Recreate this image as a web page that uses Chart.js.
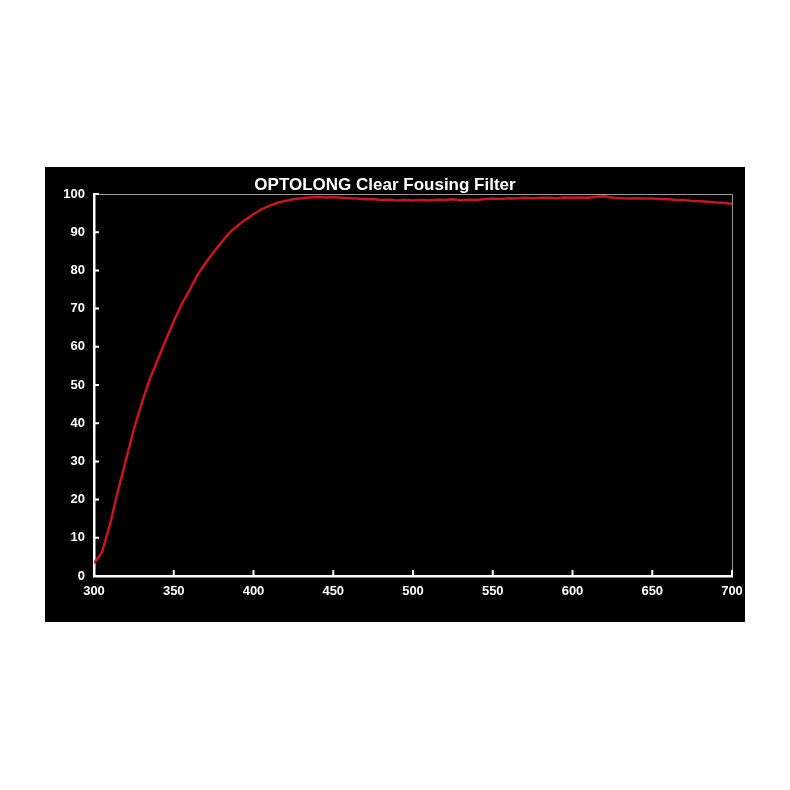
<!DOCTYPE html>
<html lang="en">
<head>
  <meta charset="UTF-8" />
  <title>OPTOLONG Clear Fousing Filter</title>
  <script src="https://cdn.jsdelivr.net/npm/chart.js"></script>
  <style>
    html, body { margin: 0; padding: 0; background: #fff; }
    #box { position: absolute; left: 45px; top: 167px; width: 700px; height: 455px; background: #000; }
  </style>
</head>
<body>
  <div id="box"><canvas id="filtro" width="700" height="455"></canvas></div>

  <script>
  // wavelength (nm), every 5 nm
  const wavelengths = [];
  for (let w = 300; w <= 700; w += 5) wavelengths.push(w);

  // transmission (%)
  const transmission = [
    3.3, 6.2, 13.4, 22.3, 30.3, 38.4, 45.4, 51.6, 56.7, 61.8,
    66.7, 71.2, 74.9, 78.9, 82.0, 84.8, 87.4, 89.9, 91.7, 93.3,
    94.7, 96.0, 96.9, 97.7, 98.2, 98.6, 98.9, 99.1, 99.2, 99.1,
    99.2, 99.0, 98.9, 98.8, 98.6, 98.7, 98.4, 98.5, 98.3, 98.4,
    98.3, 98.4, 98.3, 98.5, 98.4, 98.6, 98.3, 98.5, 98.4, 98.7,
    98.8, 98.7, 98.9, 98.8, 99.0, 98.9, 99.0, 99.0, 98.9, 99.1,
    99.0, 99.1, 99.0, 99.3, 99.4, 99.0, 98.9, 98.8, 98.9, 98.8,
    98.8, 98.7, 98.6, 98.4, 98.4, 98.2, 98.1, 98.0, 97.8, 97.7,
    97.4
  ];

  const xTicks = [300, 350, 400, 450, 500, 550, 600, 650, 700];
  const yTicks = [0, 10, 20, 30, 40, 50, 60, 70, 80, 90, 100];
  const titulo = 'OPTOLONG Clear Fousing Filter';

  const fonte = "'Liberation Sans', Arial, sans-serif";

  // ticks pointing into the plot, thin frame on top/right, title
  const extras = {
    id: 'extras',
    afterDraw(chart) {
      const ctx = chart.ctx;
      const a = chart.chartArea;
      const sx = chart.scales.x, sy = chart.scales.y;
      ctx.save();
      ctx.strokeStyle = '#9a9a9a';
      ctx.lineWidth = 1;
      ctx.beginPath();
      ctx.moveTo(a.left, a.top + 0.5);
      ctx.lineTo(a.right + 0.5, a.top + 0.5);
      ctx.lineTo(a.right + 0.5, a.bottom);
      ctx.stroke();

      ctx.strokeStyle = '#fff';
      ctx.lineWidth = 2;
      ctx.beginPath();
      xTicks.forEach(v => {
        const px = sx.getPixelForValue(v);
        ctx.moveTo(px, a.bottom);
        ctx.lineTo(px, a.bottom - 6);
      });
      yTicks.forEach(v => {
        const py = sy.getPixelForValue(v);
        ctx.moveTo(a.left, py);
        ctx.lineTo(a.left + 5, py);
      });
      ctx.stroke();

      ctx.fillStyle = '#fff';
      ctx.font = 'bold 17px ' + fonte;
      ctx.textAlign = 'center';
      ctx.textBaseline = 'alphabetic';
      ctx.fillText(titulo, 340, 23);
      ctx.restore();
    }
  };

  new Chart(document.getElementById('filtro'), {
    type: 'line',
    data: {
      datasets: [{
        label: titulo,
        data: wavelengths.map((w, i) => ({ x: w, y: transmission[i] })),
        borderColor: '#c8161e',
        borderWidth: 2.5,
        pointRadius: 0,
        tension: 0,
        fill: false
      }]
    },
    options: {
      responsive: false,
      animation: false,
      layout: { padding: { top: 27, right: 13, left: 0, bottom: 0 } },
      plugins: {
        legend: { display: false },
        title: { display: false },
        tooltip: { enabled: false }
      },
      scales: {
        x: {
          type: 'linear',
          min: 300,
          max: 700,
          afterBuildTicks: s => { s.ticks = xTicks.map(v => ({ value: v })); },
          afterFit: s => { s.height = 46; s.paddingLeft = 0; s.paddingRight = 0; },
          grid: { display: false, drawTicks: false },
          border: { display: true, color: '#fff', width: 2.5 },
          ticks: {
            color: '#fff',
            padding: 8,
            maxRotation: 0,
            font: { family: fonte, size: 13, weight: 'bold' }
          }
        },
        y: {
          type: 'linear',
          min: 0,
          max: 100,
          afterBuildTicks: s => { s.ticks = yTicks.map(v => ({ value: v })); },
          afterFit: s => { s.width = 49; s.paddingTop = 0; s.paddingBottom = 0; },
          grid: { display: false, drawTicks: false },
          border: { display: true, color: '#fff', width: 2.5 },
          ticks: {
            color: '#fff',
            padding: 9,
            font: { family: fonte, size: 13, weight: 'bold' }
          }
        }
      }
    },
    plugins: [extras]
  });
  </script>
</body>
</html>
